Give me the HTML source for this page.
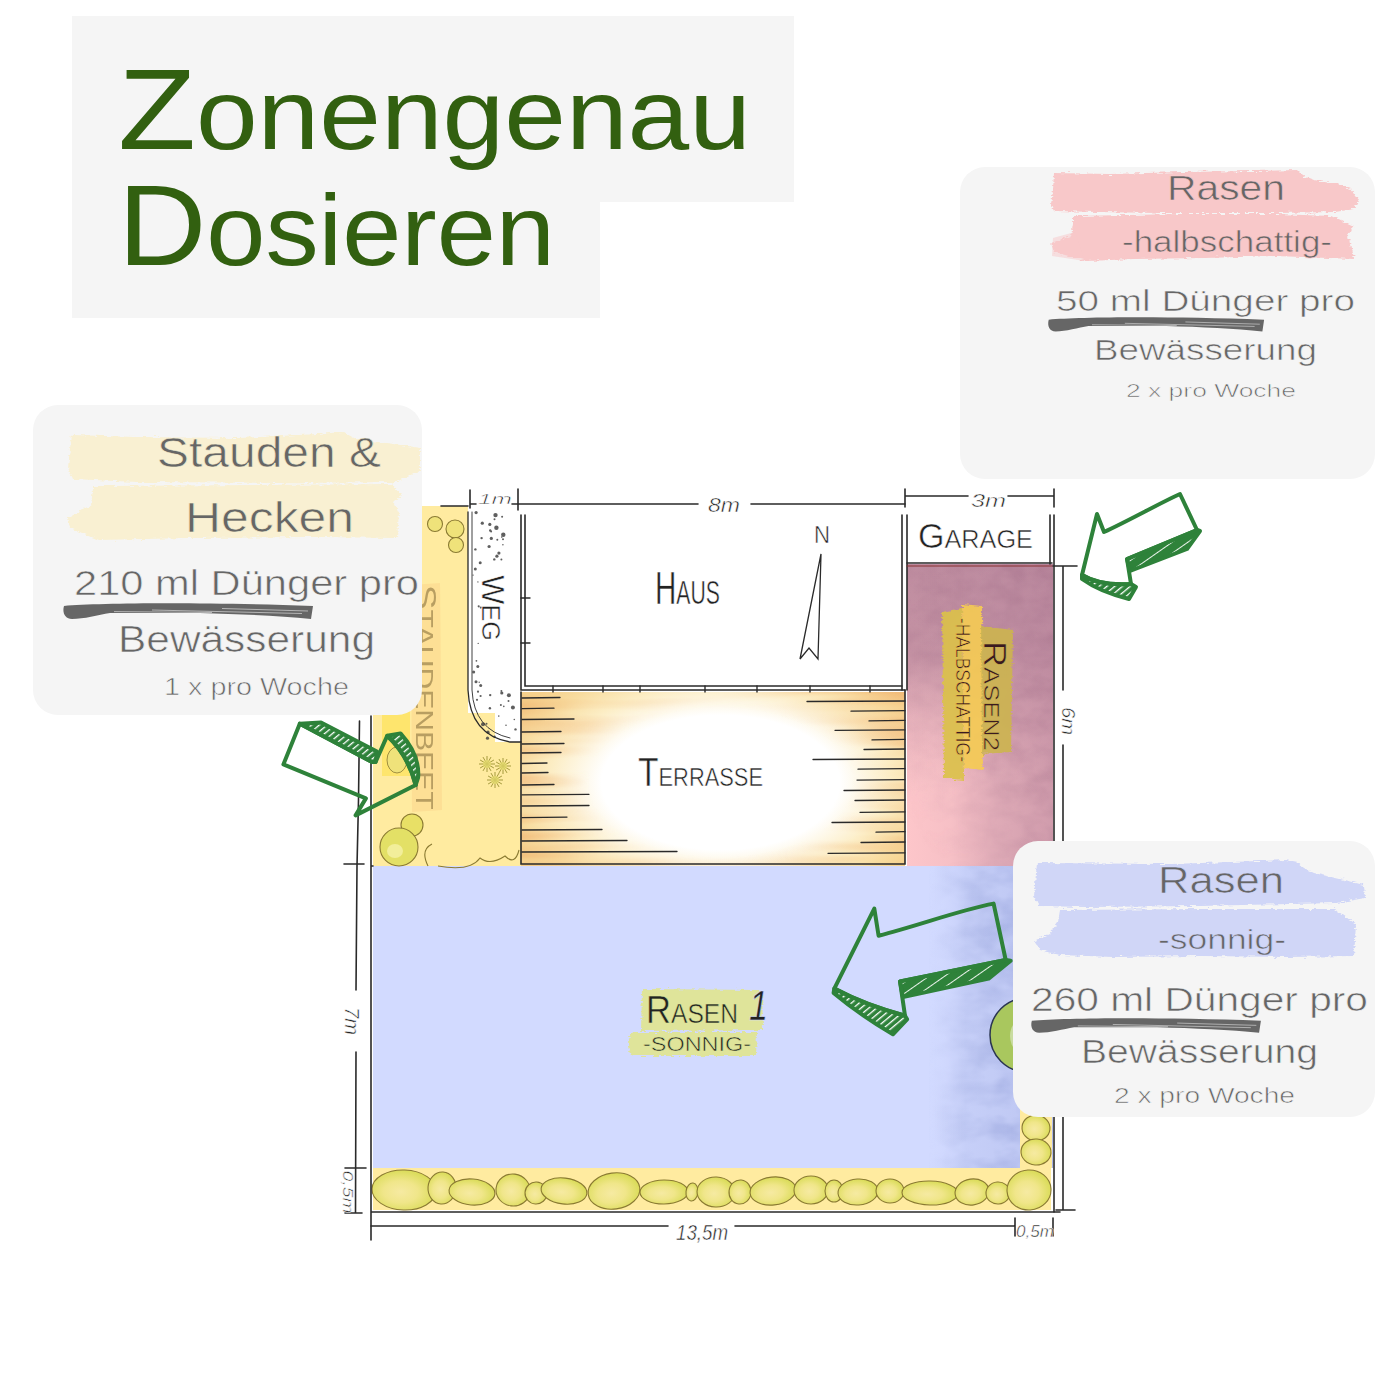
<!DOCTYPE html>
<html><head><meta charset="utf-8"><title>Zonengenau Dosieren</title>
<style>
html,body{margin:0;padding:0;background:#fff}
body{width:1400px;height:1400px;overflow:hidden;position:relative}
svg{position:absolute;left:0;top:0;display:block}
text{font-family:"Liberation Sans",sans-serif}
.hw{fill:#666666;stroke:#f5f5f5;stroke-width:0.6px}
.hwp{stroke:#f8c8c9}
.hwy{stroke:#f9f0d2}
.hwb{stroke:#d0d6f7}
.ink{fill:#2a2a2a}
.pl{fill:#222222;stroke:#ffffff;stroke-width:0.55px}
.pli{fill:#222222;font-style:italic;stroke:#ffffff;stroke-width:0.5px}
.plb{fill:#a88f55;opacity:.8}
</style></head><body>
<svg width="1400" height="1400" viewBox="0 0 1400 1400">
<defs>
  <radialGradient id="terr" cx="0.52" cy="0.52" r="0.62" gradientTransform="translate(0.52,0.52) scale(1,1.25) translate(-0.52,-0.52)">
    <stop offset="0" stop-color="#ffffff"/>
    <stop offset="0.5" stop-color="#ffffff"/>
    <stop offset="0.72" stop-color="#fcedc4"/>
    <stop offset="0.88" stop-color="#f8dc9f"/>
    <stop offset="1" stop-color="#f5d08c"/>
  </radialGradient>
  <linearGradient id="bw" x1="0" y1="0" x2="1" y2="0">
    <stop offset="0" stop-color="#d2daff" stop-opacity="0"/>
    <stop offset="0.3" stop-color="#c6cff8"/>
    <stop offset="1" stop-color="#bcc5f1"/>
  </linearGradient>
  <pattern id="hatch" width="5" height="5" patternUnits="userSpaceOnUse" patternTransform="rotate(50)">
    <rect width="5" height="5" fill="#2e823a"/>
    <rect x="0" y="0" width="1.3" height="5" fill="#ffffff"/>
  </pattern>
  <linearGradient id="r2v" x1="0" y1="0" x2="0" y2="1">
    <stop offset="0" stop-color="#bf8da0" stop-opacity="1"/>
    <stop offset="0.3" stop-color="#bf8da0" stop-opacity="0.9"/>
    <stop offset="0.55" stop-color="#c493a5" stop-opacity="0.3"/>
    <stop offset="0.75" stop-color="#c493a5" stop-opacity="0"/>
  </linearGradient>
  <linearGradient id="r2h" x1="0" y1="0" x2="1" y2="0">
    <stop offset="0" stop-color="#bb8aa0" stop-opacity="0"/>
    <stop offset="0.3" stop-color="#bb8aa0" stop-opacity="0.1"/>
    <stop offset="0.6" stop-color="#bb8aa0" stop-opacity="0.45"/>
    <stop offset="1" stop-color="#b8859c" stop-opacity="0.65"/>
  </linearGradient>
  <filter id="mott" x="0" y="0" width="1" height="1">
    <feTurbulence type="fractalNoise" baseFrequency="0.03 0.05" numOctaves="3" seed="4" result="noise"/>
    <feColorMatrix in="noise" type="matrix" values="0 0 0 0 0  0 0 0 0 0  0 0 0 0 0  0 0 0 2.4 -0.75" result="na"/>
    <feComposite in="SourceGraphic" in2="na" operator="in"/>
  </filter>
  <filter id="mott2" x="0" y="0" width="1" height="1">
    <feTurbulence type="fractalNoise" baseFrequency="0.04 0.06" numOctaves="3" seed="11" result="noise"/>
    <feColorMatrix in="noise" type="matrix" values="0 0 0 0 0  0 0 0 0 0  0 0 0 0 0  0 0 0 2.2 -0.7" result="na"/>
    <feComposite in="SourceGraphic" in2="na" operator="in"/>
  </filter>
  <filter id="streak" x="0" y="0" width="1" height="1">
    <feTurbulence type="fractalNoise" baseFrequency="0.006 0.07" numOctaves="2" seed="8" result="noise"/>
    <feColorMatrix in="noise" type="matrix" values="0 0 0 0 0  0 0 0 0 0  0 0 0 0 0  0 0 0 2.6 -0.9" result="na"/>
    <feComposite in="SourceGraphic" in2="na" operator="in"/>
  </filter>
  <linearGradient id="bw2" x1="0" y1="0" x2="1" y2="0">
    <stop offset="0" stop-color="#a3aee0" stop-opacity="0"/>
    <stop offset="0.3" stop-color="#a3aee0" stop-opacity="0.35"/>
    <stop offset="0.6" stop-color="#98a4dc" stop-opacity="0.5"/>
    <stop offset="1" stop-color="#98a4dc" stop-opacity="0.55"/>
  </linearGradient>
  <linearGradient id="r2m" x1="1" y1="0" x2="0.2" y2="1">
    <stop offset="0" stop-color="#9a6682" stop-opacity="0.3"/>
    <stop offset="0.5" stop-color="#9a6682" stop-opacity="0.2"/>
    <stop offset="1" stop-color="#9a6682" stop-opacity="0"/>
  </linearGradient>
  <radialGradient id="terrO" cx="0.52" cy="0.52" r="0.62" gradientTransform="translate(0.52,0.52) scale(1,1.25) translate(-0.52,-0.52)">
    <stop offset="0" stop-color="#f0b070" stop-opacity="0"/>
    <stop offset="0.55" stop-color="#f0b070" stop-opacity="0"/>
    <stop offset="0.8" stop-color="#f0b070" stop-opacity="0.45"/>
    <stop offset="1" stop-color="#eeaa68" stop-opacity="0.6"/>
  </radialGradient>
  <radialGradient id="blobg" cx="0.45" cy="0.55" r="0.6">
    <stop offset="0" stop-color="#f6eaa2"/>
    <stop offset="0.45" stop-color="#f0e68a"/>
    <stop offset="1" stop-color="#d6da50"/>
  </radialGradient>
  <filter id="rough" x="-5%" y="-20%" width="110%" height="140%">
    <feTurbulence type="fractalNoise" baseFrequency="0.15 0.6" numOctaves="2" seed="2" result="t"/>
    <feDisplacementMap in="SourceGraphic" in2="t" scale="5" xChannelSelector="R" yChannelSelector="G"/>
  </filter>
  <pattern id="hatch2" width="9" height="9" patternUnits="userSpaceOnUse" patternTransform="rotate(55)">
    <rect width="9" height="9" fill="#2e823a"/>
    <rect x="0" y="0" width="1" height="9" fill="#ffffff" opacity="0.9"/>
  </pattern>
</defs>

<!-- ============ TITLE ============ -->
<rect x="72" y="16" width="722" height="186" fill="#f5f5f5"/>
<rect x="72" y="202" width="528" height="116" fill="#f5f5f5"/>
<text x="118" y="149" font-size="110" fill="#326010" textLength="633" lengthAdjust="spacingAndGlyphs"><tspan font-size="115">Z</tspan><tspan font-size="100">onengenau</tspan></text>
<text x="118" y="265" font-size="110" fill="#326010" textLength="437" lengthAdjust="spacingAndGlyphs"><tspan font-size="115">D</tspan><tspan font-size="100">osieren</tspan></text>

<!-- ============ PLAN ============ -->
<g id="plan">
<rect x="373" y="506" width="148" height="360" fill="#ffeba0"/>
<path d="M411,585 L440,583 L442,810 L412,812 Z" fill="#fbd68c" opacity="0.55"/>
<rect x="382" y="700" width="28" height="76" fill="#fde35c" opacity="0.75"/>
<path d="M468,506 L521,506 L521,742 L495,742 L495,713 L468,713 Z" fill="#ffffff"/>
<rect x="521" y="692" width="384" height="174" fill="url(#terr)"/>
<rect x="521" y="692" width="384" height="174" fill="url(#terrO)" filter="url(#streak)"/>
<rect x="907" y="564" width="146" height="303" fill="#fdc6ca"/>
<rect x="907" y="564" width="146" height="303" fill="url(#r2v)"/>
<rect x="907" y="564" width="146" height="303" fill="url(#r2h)"/>
<rect x="907" y="564" width="146" height="303" fill="url(#r2m)" filter="url(#mott2)"/>
<path d="M942,612 L962,608 L964,780 L944,778 Z" fill="#dcc248" opacity="0.9" filter="url(#rough)"/>
<path d="M962,604 L982,606 L983,770 L964,768 Z" fill="#f6cc52" opacity="0.9" filter="url(#rough)"/>
<path d="M981,626 L1013,630 L1011,752 L982,754 Z" fill="#cdb54f" opacity="0.9" filter="url(#rough)"/>
<rect x="373" y="866" width="680" height="302" fill="#d2daff"/>
<rect x="928" y="866" width="125" height="302" fill="url(#bw)"/>
<rect x="928" y="866" width="125" height="302" fill="url(#bw2)" filter="url(#mott)"/>
<rect x="373" y="1168" width="678" height="42" fill="#ffeba0"/>
<rect x="1020" y="1100" width="32" height="68" fill="#ffeba0"/>
</g>

<g id="blobs" stroke="#8a7a32" stroke-width="1.1">
<ellipse cx="404" cy="1190" rx="32" ry="20" transform="rotate(2.0 404 1190)" fill="url(#blobg)"/>
<ellipse cx="442" cy="1188" rx="14" ry="16" transform="rotate(3.9 442 1188)" fill="url(#blobg)"/>
<ellipse cx="472" cy="1192" rx="23" ry="13" transform="rotate(4.7 472 1192)" fill="url(#blobg)"/>
<ellipse cx="513" cy="1190" rx="17" ry="16" transform="rotate(7.1 513 1190)" fill="url(#blobg)"/>
<ellipse cx="536" cy="1193" rx="11" ry="11" transform="rotate(3.8 536 1193)" fill="url(#blobg)"/>
<ellipse cx="564" cy="1191" rx="23" ry="13" transform="rotate(6.8 564 1191)" fill="url(#blobg)"/>
<ellipse cx="614" cy="1191" rx="26" ry="18" transform="rotate(-7.5 614 1191)" fill="url(#blobg)"/>
<ellipse cx="664" cy="1192" rx="24" ry="12" transform="rotate(-0.6 664 1192)" fill="url(#blobg)"/>
<ellipse cx="692" cy="1192" rx="6" ry="9" transform="rotate(7.1 692 1192)" fill="url(#blobg)"/>
<ellipse cx="716" cy="1192" rx="19" ry="15" transform="rotate(2.4 716 1192)" fill="url(#blobg)"/>
<ellipse cx="740" cy="1192" rx="11" ry="12" transform="rotate(6.4 740 1192)" fill="url(#blobg)"/>
<ellipse cx="773" cy="1191" rx="23" ry="14" transform="rotate(-6.2 773 1191)" fill="url(#blobg)"/>
<ellipse cx="811" cy="1190" rx="17" ry="14" transform="rotate(-0.5 811 1190)" fill="url(#blobg)"/>
<ellipse cx="834" cy="1191" rx="9" ry="11" fill="url(#blobg)"/>
<ellipse cx="858" cy="1192" rx="20" ry="13" transform="rotate(-4.1 858 1192)" fill="url(#blobg)"/>
<ellipse cx="890" cy="1191" rx="14" ry="12" transform="rotate(0.7 890 1191)" fill="url(#blobg)"/>
<ellipse cx="930" cy="1193" rx="28" ry="12" transform="rotate(1.2 930 1193)" fill="url(#blobg)"/>
<ellipse cx="972" cy="1192" rx="17" ry="13" transform="rotate(-7.8 972 1192)" fill="url(#blobg)"/>
<ellipse cx="998" cy="1193" rx="12" ry="11" transform="rotate(-4.5 998 1193)" fill="url(#blobg)"/>
<ellipse cx="1029" cy="1190" rx="22" ry="20" transform="rotate(-3.5 1029 1190)" fill="url(#blobg)"/>
<ellipse cx="1036" cy="1128" rx="14" ry="13" transform="rotate(6.7 1036 1128)" fill="url(#blobg)"/>
<ellipse cx="1036" cy="1152" rx="15" ry="13" transform="rotate(4.3 1036 1152)" fill="url(#blobg)"/>
<circle cx="435.0" cy="524.0" r="7.5" fill="#efe27a"/>
<circle cx="455.0" cy="529.0" r="9.0" fill="#efe27a"/>
<circle cx="456.0" cy="545.0" r="7.5" fill="#efe27a"/>
<circle cx="412" cy="825" r="11" fill="#e8e066"/>
<circle cx="399" cy="847" r="19" fill="#e3e066"/>
<ellipse cx="395" cy="851" rx="8" ry="7" fill="#f2ee9a" stroke="none"/>
<path d="M428,866 Q420,850 432,844 M438,866 Q470,872 480,858 Q490,866 505,856 Q515,866 519,850" fill="none"/>
<ellipse cx="397" cy="760" rx="10" ry="13" fill="#efe27a" stroke-width="0.8"/>
<path d="M479.0,764.0 L495.0,764.0 M480.1,760.0 L493.9,768.0 M483.0,757.1 L491.0,770.9 M487.0,756.0 L487.0,772.0 M491.0,757.1 L483.0,770.9 M493.9,760.0 L480.1,768.0 " stroke="#a59a3c" stroke-width="1" fill="none"/>
<circle cx="487" cy="764" r="4" fill="#e8e070" stroke="none" opacity=".7"/>
<path d="M495.0,766.0 L511.0,766.0 M496.1,762.0 L509.9,770.0 M499.0,759.1 L507.0,772.9 M503.0,758.0 L503.0,774.0 M507.0,759.1 L499.0,772.9 M509.9,762.0 L496.1,770.0 " stroke="#a59a3c" stroke-width="1" fill="none"/>
<circle cx="503" cy="766" r="4" fill="#e8e070" stroke="none" opacity=".7"/>
<path d="M487.0,780.0 L503.0,780.0 M488.1,776.0 L501.9,784.0 M491.0,773.1 L499.0,786.9 M495.0,772.0 L495.0,788.0 M499.0,773.1 L491.0,786.9 M501.9,776.0 L488.1,784.0 " stroke="#a59a3c" stroke-width="1" fill="none"/>
<circle cx="495" cy="780" r="4" fill="#e8e070" stroke="none" opacity=".7"/>
</g>
<g fill="#444" opacity="0.85"><circle cx="481.6" cy="538.1" r="1.2"/><circle cx="503.3" cy="534.8" r="2.2"/><circle cx="476.1" cy="512.6" r="1.6"/><circle cx="482.3" cy="523.2" r="1.6"/><circle cx="491.3" cy="538.4" r="1.6"/><circle cx="494.5" cy="519.2" r="1.0"/><circle cx="501.8" cy="537.1" r="0.8"/><circle cx="495.5" cy="515.1" r="2.2"/><circle cx="475.4" cy="549.4" r="1.2"/><circle cx="489.1" cy="546.5" r="1.6"/><circle cx="496.9" cy="556.2" r="1.6"/><circle cx="497.3" cy="539.7" r="1.0"/><circle cx="502.1" cy="516.7" r="1.0"/><circle cx="489.8" cy="524.4" r="1.6"/><circle cx="498.9" cy="553.1" r="1.6"/><circle cx="490.2" cy="530.5" r="1.2"/><circle cx="491.1" cy="531.6" r="1.0"/><circle cx="502.9" cy="544.7" r="0.8"/><circle cx="501.4" cy="559.6" r="1.0"/><circle cx="496.4" cy="527.7" r="2.2"/><circle cx="503.0" cy="539.3" r="1.0"/><circle cx="494.3" cy="559.4" r="1.2"/><circle cx="475.3" cy="568.9" r="1.5"/><circle cx="473.7" cy="672.1" r="1.5"/><circle cx="480.2" cy="562.8" r="1.5"/><circle cx="479.2" cy="682.2" r="0.7"/><circle cx="477.8" cy="666.6" r="1.5"/><circle cx="478.7" cy="606.3" r="1.1"/><circle cx="477.0" cy="699.8" r="1.1"/><circle cx="473.1" cy="575.1" r="0.7"/><circle cx="480.6" cy="696.0" r="1.1"/><circle cx="477.9" cy="581.9" r="0.7"/><circle cx="480.8" cy="607.6" r="1.1"/><circle cx="480.7" cy="685.5" r="1.5"/><circle cx="476.0" cy="681.8" r="1.5"/><circle cx="478.2" cy="643.4" r="0.7"/><circle cx="478.0" cy="691.7" r="1.1"/><circle cx="476.4" cy="660.8" r="0.9"/><circle cx="494.6" cy="736.8" r="1.2"/><circle cx="498.8" cy="716.1" r="0.8"/><circle cx="515.5" cy="729.4" r="1.2"/><circle cx="501.4" cy="691.0" r="1.0"/><circle cx="501.8" cy="693.0" r="1.6"/><circle cx="512.9" cy="707.6" r="2.0"/><circle cx="506.0" cy="725.3" r="0.8"/><circle cx="514.3" cy="719.5" r="0.8"/><circle cx="487.5" cy="738.2" r="1.6"/><circle cx="500.9" cy="704.9" r="1.0"/><circle cx="489.9" cy="708.2" r="1.2"/><circle cx="488.0" cy="732.2" r="1.6"/><circle cx="508.9" cy="695.2" r="2.0"/><circle cx="483.0" cy="724.2" r="2.0"/><circle cx="508.5" cy="701.1" r="1.0"/><circle cx="503.8" cy="706.4" r="0.8"/><circle cx="490.2" cy="695.1" r="1.2"/><circle cx="486.5" cy="723.7" r="1.0"/></g>
<circle cx="1027" cy="1035" r="37" fill="#a9c75e" stroke="#2a3550" stroke-width="1.5"/>
<circle cx="1032" cy="1036" r="22" fill="#c9dca0"/>
<path d="M642,989 L762,990 L763,1030 L641,1031 Z" fill="#dfe49a" filter="url(#rough)"/>
<path d="M632,1032 L757,1032 L756,1056 L632,1056 Q624,1044 632,1032 Z" fill="#dfe49a" filter="url(#rough)"/>

<g id="lines" fill="none" stroke="#2a2a2a" stroke-width="1.6" stroke-linecap="round">
<path d="M470,490 L470,508 M518,489 L518,510 M470,504 L476,504 M512,504 L518,504 M518,504 L698,504 M751,504 L905,504"/>
<path d="M905,489 L905,507 M905,496 L968,496 M1008,496 L1054,496 M1054,489 L1054,507"/>
<path d="M441,506 L468,506"/>
<path d="M521,515 L521,690 L905,690 M525,515 L525,686 L902,686"/>
<path d="M902,515 L902,690 M907,515 L907,690"/>
<path d="M521,598 L530,598 M521,643 L530,643 M553,686 L553,692 M603,686 L603,692 M640,686 L640,692 M705,686 L705,692 M757,686 L757,692 M810,686 L810,692 M870,686 L870,692" stroke-width="1.4"/>
<path d="M1050,515 L1050,564 M1054,515 L1054,1212 M907,563 L1052,563"/>
<path d="M907,566 L1052,566" stroke="#8a3030" stroke-width="1.2"/>
<path d="M521,692 L521,864 L905,864 L905,690"/>
<path d="M468,512 L468,690 Q470,735 510,742 L521,742" stroke-width="1.3"/>
<path d="M472,512 L472,690 Q474,730 510,738" stroke-width="0.9"/>
<path d="M371,716 L371,1240 M371,1212 L1060,1212 M371,866 L373,866"/>
<path d="M359.5,721 L358.5,800 L357,866 L356,990 M356,1052 L355.5,1213 M344,864 L364,864 M345,1168 L366,1168 M345,1213 L362,1213"/>
<path d="M1063,566 L1063,690 M1063,745 L1063,867 M1053,566 L1077,566 M1053,867 L1070,867"/>
<path d="M1063,1117 L1063,1210 M1056,1210 L1075,1210"/>
<path d="M371,1226 L668,1226 M735,1226 L1014,1226 M1015,1218 L1015,1236 M1053,1218 L1053,1236"/>
<path d="M821,554 L800,659 L809,648 L818,659 Z" stroke-width="1.3"/>
<path d="M522,698.0 L560,697.5 M522,708.7 L554,708.2 M522,719.5 L574,719.0 M522,732.0 L561,731.5 M522,744.0 L564,743.5 M522,753.0 L561,752.5 M522,763.5 L547,763.0 M522,773.0 L548,772.5 M522,785.0 L554,784.5 M522,794.8 L589,794.3 M522,806.0 L589,805.5 M522,817.6 L567,817.1 M522,830.0 L602,829.5 M522,841.0 L627,840.5 M522,852.0 L677,851.5 M807,701.5 L905,701.0 M851,711.2 L905,710.7 M869,720.9 L905,720.4 M835,730.3 L905,729.8 M872,739.9 L905,739.4 M864,749.5 L905,749.0 M813,759.5 L905,759.0 M858,769.2 L905,768.7 M857,780.1 L905,779.6 M844,790.5 L905,790.0 M855,800.5 L905,800.0 M860,812.3 L905,811.8 M832,822.5 L905,822.0 M876,832.2 L905,831.7 M861,842.5 L905,842.0 M828,853.3 L905,852.8 " stroke-width="1.3"/>
</g>

<g id="labels">
<text class="pli" x="478" y="504" font-size="14" textLength="34" lengthAdjust="spacingAndGlyphs">1m</text>
<text class="pli" x="708" y="512" font-size="20" textLength="32" lengthAdjust="spacingAndGlyphs">8m</text>
<text class="pli" x="971" y="507" font-size="19" textLength="35" lengthAdjust="spacingAndGlyphs">3m</text>
<text class="pl" x="814" y="543" font-size="24" textLength="16" lengthAdjust="spacingAndGlyphs">N</text>
<text class="pl" x="655" y="604" font-size="46" textLength="65" lengthAdjust="spacingAndGlyphs">H<tspan font-size="33">AUS</tspan></text>
<text class="pl" x="918" y="548" font-size="35" textLength="115" lengthAdjust="spacingAndGlyphs">G<tspan font-size="26">ARAGE</tspan></text>
<text class="pl" x="638" y="786" font-size="40" textLength="125" lengthAdjust="spacingAndGlyphs">T<tspan font-size="26">ERRASSE</tspan></text>
<text class="pl" transform="translate(493,608) rotate(90)" x="0" y="11.0" text-anchor="middle" font-size="32" textLength="66" lengthAdjust="spacingAndGlyphs">W<tspan font-size="26">EG</tspan></text>
<text class="plb" transform="translate(426,697) rotate(90)" x="0" y="10.3" text-anchor="middle" font-size="30" textLength="225" lengthAdjust="spacingAndGlyphs">S<tspan font-size="24">TAUDENBEET</tspan></text>
<text class="pl" style="stroke:#cdb54f;fill:#3a1a20" transform="translate(994,696) rotate(90)" x="0" y="10.5" text-anchor="middle" font-size="31" textLength="110" lengthAdjust="spacingAndGlyphs">R<tspan font-size="22">ASEN2</tspan></text>
<text class="pl" style="stroke:#f3c94e;fill:#3a1a20" transform="translate(963,690) rotate(90)" x="0" y="7.2" text-anchor="middle" font-size="21" textLength="144" lengthAdjust="spacingAndGlyphs">-HALBSCHATTIG-</text>
<text class="pl" style="stroke:#dfe49a" x="646" y="1023" font-size="38" textLength="92" lengthAdjust="spacingAndGlyphs">R<tspan font-size="27">ASEN</tspan></text>
<text class="pl" style="stroke:#d2daff;font-style:italic" x="749" y="1020" font-size="42" textLength="19" lengthAdjust="spacingAndGlyphs">1</text>
<text class="pl" style="stroke:#dfe49a" x="643" y="1051" font-size="20" textLength="108" lengthAdjust="spacingAndGlyphs">-SONNIG-</text>
<text class="pli" transform="translate(1068,721) rotate(90)" x="0" y="6.5" text-anchor="middle" font-size="19" textLength="28" lengthAdjust="spacingAndGlyphs">6m</text>
<text class="pli" transform="translate(352,1021) rotate(90)" x="0" y="6.9" text-anchor="middle" font-size="20" textLength="28" lengthAdjust="spacingAndGlyphs">7m</text>
<text class="pli" transform="translate(348,1192) rotate(90)" x="0" y="5.2" text-anchor="middle" font-size="15" textLength="43" lengthAdjust="spacingAndGlyphs">0,5m</text>
<text class="pli" x="676" y="1240" font-size="22" textLength="52" lengthAdjust="spacingAndGlyphs">13,5m</text>
<text class="pli" x="1016" y="1237" font-size="16" textLength="38" lengthAdjust="spacingAndGlyphs">0,5m</text>
</g>

<!-- ============ CARDS ============ -->
<g id="cards">
  <!-- card 1 : Rasen halbschattig -->
  <rect x="960" y="167" width="415" height="312" rx="25" fill="#f5f5f5"/>
  <path d="M1054,173 L1111,174 L1181,172 L1252,171 L1297,170 L1303,176 L1314,180 L1337,184 L1351,189 L1359,200 L1354,209 L1335,212 L1276,213 L1158,213 L1097,212 L1054,211 L1051,205 L1053,189 Z" fill="#f8c8c9" filter="url(#rough)"/>
  <path d="M1073,216 L1181,214 L1276,214 L1332,216 L1354,226 L1347,236 L1351,243 L1354,259 L1276,256 L1205,258 L1134,259 L1087,261 L1054,252 L1051,243 L1071,236 L1073,224 Z" fill="#f8c8c9" filter="url(#rough)"/>
  <path d="M1053,238 L1075,232 L1085,261 L1052,256 Z" fill="#f8c8c9" opacity="0.5"/>
  <text class="hw hwp" x="1167" y="200" font-size="35" textLength="118" lengthAdjust="spacingAndGlyphs">Rasen</text>
  <text class="hw hwp" x="1122" y="252" font-size="30" textLength="210" lengthAdjust="spacingAndGlyphs">-halbschattig-</text>
  <text class="hw" x="1056" y="311" font-size="30" textLength="299" lengthAdjust="spacingAndGlyphs">50 ml Dünger pro</text>
  <g transform="translate(1047,317) scale(0.865,0.9)"><path d="M2,3 C38,0 138,-1 251,3 L249,16 C218,13 178,11 138,10 L48,10 C36,12 22,16 10,16 C3,16 0,10 2,3 Z" fill="#666666"/><path d="M52,8.6 L150,9.5 M90,7 L240,10.5 M160,5.5 L246,8" stroke="#f5f5f5" stroke-width="0.7" fill="none" opacity="0.8"/></g>
  <text class="hw" x="1094" y="360" font-size="29.5" textLength="223" lengthAdjust="spacingAndGlyphs">Bewässerung</text>
  <text class="hw" x="1126" y="397" font-size="19" textLength="170" lengthAdjust="spacingAndGlyphs">2 x pro Woche</text>

  <!-- card 2 : Stauden & Hecken -->
  <rect x="33" y="405" width="389" height="310" rx="25" fill="#f5f5f5"/>
  <path d="M72,435 L137,437 L240,438 L317,434 L343,432 L356,439 L394,444 L420,448 L420,471 L397,482 L291,483 L137,482 L73,479 L68,468 L70,448 Z" fill="#f9f0d2" filter="url(#rough)"/>
  <path d="M93,486 L392,484 L402,495 L394,502 L399,513 L397,538 L317,537 L189,538 L99,540 L70,528 L68,518 L91,505 L93,489 Z" fill="#f9f0d2" filter="url(#rough)"/>
  <text class="hw hwy" x="157" y="467" font-size="42" textLength="224" lengthAdjust="spacingAndGlyphs">Stauden &amp;</text>
  <text class="hw hwy" x="185" y="532" font-size="42" textLength="169" lengthAdjust="spacingAndGlyphs">Hecken</text>
  <text class="hw" x="74" y="595" font-size="35" textLength="345" lengthAdjust="spacingAndGlyphs">210 ml Dünger pro</text>
  <g transform="translate(62,603)"><path d="M2,3 C38,0 138,-1 251,3 L249,16 C218,13 178,11 138,10 L48,10 C36,12 22,16 10,16 C3,16 0,10 2,3 Z" fill="#666666"/><path d="M52,8.6 L150,9.5 M90,7 L240,10.5 M160,5.5 L246,8" stroke="#f5f5f5" stroke-width="0.7" fill="none" opacity="0.8"/></g>
  <text class="hw" x="118" y="652" font-size="36" textLength="257" lengthAdjust="spacingAndGlyphs">Bewässerung</text>
  <text class="hw" x="164" y="695" font-size="23" textLength="185" lengthAdjust="spacingAndGlyphs">1 x pro Woche</text>

  <!-- card 3 : Rasen sonnig -->
  <rect x="1013" y="841" width="362" height="276" rx="25" fill="#f5f5f5"/>
  <path d="M1037,863 L1171,864 L1286,860 L1297,862 L1304,868 L1314,873 L1340,879 L1364,885 L1365,898 L1337,903 L1200,906 L1086,907 L1039,906 L1034,896 L1036,873 Z" fill="#d0d6f7" filter="url(#rough)"/>
  <path d="M1060,910 L1200,909 L1334,909 L1356,924 L1354,956 L1286,957 L1200,956 L1114,957 L1060,955 L1040,950 L1034,941 L1050,933 L1058,922 Z" fill="#d0d6f7" filter="url(#rough)"/>
  <text class="hw hwb" x="1158" y="893" font-size="36" textLength="126" lengthAdjust="spacingAndGlyphs">Rasen</text>
  <text class="hw hwb" x="1158" y="949" font-size="28" textLength="128" lengthAdjust="spacingAndGlyphs">-sonnig-</text>
  <text class="hw" x="1031" y="1011" font-size="33" textLength="337" lengthAdjust="spacingAndGlyphs">260 ml Dünger pro</text>
  <g transform="translate(1030,1018) scale(0.92,0.92)"><path d="M2,3 C38,0 138,-1 251,3 L249,16 C218,13 178,11 138,10 L48,10 C36,12 22,16 10,16 C3,16 0,10 2,3 Z" fill="#666666"/><path d="M52,8.6 L150,9.5 M90,7 L240,10.5 M160,5.5 L246,8" stroke="#f5f5f5" stroke-width="0.7" fill="none" opacity="0.8"/></g>
  <text class="hw" x="1081" y="1063" font-size="32.5" textLength="237" lengthAdjust="spacingAndGlyphs">Bewässerung</text>
  <text class="hw" x="1114" y="1103" font-size="22" textLength="181" lengthAdjust="spacingAndGlyphs">2 x pro Woche</text>
</g>

<g id="arrows" stroke="#2e823a" stroke-width="4" stroke-linejoin="round" stroke-linecap="round">
  <!-- arrow 1 -->
  <path d="M1127,559 L1197,530 L1200,531 L1187,549 L1130,571 Z" fill="url(#hatch2)"/>
  <path d="M1082,575 Q1100,586 1131,584 L1136,587 L1129,599 Q1100,592 1082,579 Z" fill="url(#hatch)"/>
  <path d="M1104,532 C1130,520 1160,503 1180,494 L1197,530 L1127,559 L1131,584 Q1100,586 1082,575 L1097,514 Z" fill="none"/>
  <!-- arrow 3 -->
  <path d="M900,981.4 L1005.7,960 L1010.7,960.7 L988.6,978.6 L902.9,997.1 Z" fill="url(#hatch2)"/>
  <path d="M834.3,988.6 Q865,1005 905,1015.7 L907.1,1019.3 L892.9,1034.3 Q860,1015 833.6,992.9 Z" fill="url(#hatch)"/>
  <path d="M878.6,935.7 C920,925 960,910 993.6,903.6 L1005.7,960 L900,981.4 L905,1015.7 Q865,1005 834.3,988.6 L874.3,908.6 Z" fill="none"/>
  <!-- arrow 2 -->
  <path d="M299.8,723.7 L321,722.5 L376.9,751.6 L375.6,761.9 L372,761.9 Z" fill="url(#hatch)"/>
  <path d="M387.2,735.8 L400.5,733.4 Q420,755 418.1,777.7 L415.7,785 Q408,755 387.2,735.8 Z" fill="url(#hatch)"/>
  <path d="M299.8,723.7 L283.4,764.4 L365.9,798.4 L355.6,815.4 L415.7,785 Q408,755 387.2,735.8 L375.6,761.9 L372,761.9 Z" fill="none"/>
</g>

</svg>
</body></html>
